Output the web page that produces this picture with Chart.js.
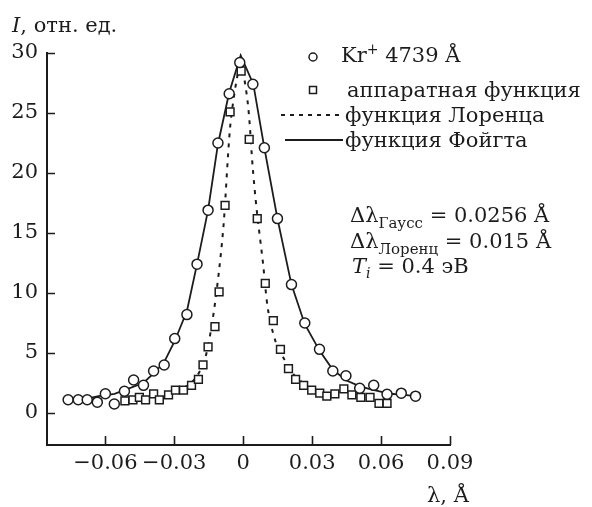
<!DOCTYPE html>
<html>
<head>
<meta charset="utf-8">
<script src="https://cdn.jsdelivr.net/npm/chart.js@4.4.1/dist/chart.umd.min.js"></script>
<style>
  body { margin: 0; background: #fff; }
  #wrap { width: 592px; height: 507px; }
</style>
</head>
<body>
<div id="wrap"><canvas id="chart" width="592" height="507"></canvas></div>
<script>
// Kr+ 4739 Å (circles)
const krLambda = [-0.0762, -0.0718, -0.0679, -0.0635, -0.0600, -0.0561, -0.0517, -0.0477, -0.0434, -0.0390, -0.0344, -0.0298, -0.0245, -0.0201, -0.0153, -0.0110, -0.0061, -0.0015, 0.0042, 0.0092, 0.0149, 0.0210, 0.0268, 0.0332, 0.0390, 0.0447, 0.0507, 0.0568, 0.0626, 0.0688, 0.0750];
const krIntensity = [1.1, 1.1, 1.1, 0.9, 1.6, 0.75, 1.8, 2.75, 2.3, 3.5, 4.0, 6.2, 8.2, 12.4, 16.9, 22.5, 26.6, 29.2, 27.4, 22.1, 16.2, 10.7, 7.5, 5.3, 3.5, 3.1, 2.05, 2.3, 1.55, 1.65, 1.4];

// аппаратная функция (squares)
const appLambda = [-0.0515, -0.0480, -0.0452, -0.0425, -0.0390, -0.0365, -0.0325, -0.0295, -0.0260, -0.0225, -0.0195, -0.0175, -0.0153, -0.0123, -0.0105, -0.0079, -0.0057, -0.0009, 0.0026, 0.0061, 0.0096, 0.0131, 0.0162, 0.0197, 0.0228, 0.0263, 0.0298, 0.0333, 0.0364, 0.0399, 0.0438, 0.0473, 0.0512, 0.0552, 0.0591, 0.0626];
const appIntensity = [1.0, 1.1, 1.3, 1.1, 1.6, 1.1, 1.5, 1.9, 1.9, 2.3, 2.8, 4.0, 5.5, 7.2, 10.1, 17.3, 25.1, 28.5, 22.8, 16.2, 10.8, 7.7, 5.3, 3.7, 2.8, 2.3, 1.9, 1.65, 1.4, 1.6, 2.0, 1.5, 1.3, 1.3, 0.8, 0.8];

// функция Лоренца (dotted)
const lorLambda = [-0.030, -0.024, -0.020, -0.0165, -0.0133, -0.0105, -0.0085, -0.0057, -0.0030, -0.0010, 0.0020, 0.0042, 0.0060, 0.0086, 0.0108, 0.0140, 0.0175, 0.0220, 0.0280];
const lorIntensity = [1.8, 2.3, 3.1, 4.6, 7.8, 11.9, 15.8, 23.8, 27.6, 29.0, 25.8, 20.3, 16.7, 12.5, 8.6, 6.0, 4.6, 3.2, 2.2];

// функция Фойгта (solid)
const voigtLambda = [-0.0762, -0.068, -0.063, -0.056, -0.0517, -0.0435, -0.039, -0.0345, -0.0298, -0.0245, -0.0201, -0.0153, -0.011, -0.0061, -0.0011, 0.0044, 0.0092, 0.0149, 0.021, 0.0268, 0.0332, 0.039, 0.045, 0.051, 0.057, 0.064, 0.070, 0.075];
const voigtIntensity = [1.1, 1.2, 1.4, 1.6, 1.9, 2.5, 3.3, 4.2, 6.0, 8.5, 12.4, 16.9, 22.4, 26.7, 29.8, 27.4, 22.1, 16.2, 10.7, 7.4, 5.2, 3.6, 2.7, 2.2, 1.9, 1.6, 1.5, 1.4];

const xTicks = [-0.06, -0.03, 0, 0.03, 0.06, 0.09];
const yTicks = [0, 5, 10, 15, 20, 25, 30];

const INK = "#1c1c1c";
const SERIF = "'DejaVu Serif', serif";

const pts = (xs, ys) => xs.map((x, i) => ({ x, y: ys[i] }));
const fmtX = (v) => (v === 0 ? "0" : (v < 0 ? "\u2212" : "") + Math.abs(v).toFixed(2));

// draw runs of text with different styles on one baseline
function rich(ctx, x, y, parts) {
	for (const p of parts) {
		ctx.font = `${p.italic ? "italic " : ""}${p.size || 21}px ${SERIF}`;
		ctx.fillText(p.t, x, y + (p.dy || 0));
		x += ctx.measureText(p.t).width;
	}
}

const decor = {
	id: "decor",
	afterDraw(chart) {
		const { ctx, chartArea: a } = chart;
		const { x, y } = chart.scales;
		ctx.save();
		ctx.strokeStyle = INK;
		ctx.lineWidth = 1.6;
		ctx.beginPath();
		for (const v of yTicks) {
			const py = Math.round(y.getPixelForValue(v)) + 0.5;
			ctx.moveTo(a.left, py);
			ctx.lineTo(a.left + 8, py);
		}
		for (const v of xTicks) {
			const px = Math.round(x.getPixelForValue(v)) + 0.5;
			ctx.moveTo(px, a.bottom);
			ctx.lineTo(px, a.bottom - 9);
		}
		ctx.stroke();

		ctx.fillStyle = INK;
		ctx.textBaseline = "alphabetic";
		ctx.textAlign = "left";
		// axis titles
		rich(ctx, 12, 32, [{ t: "I", italic: true }, { t: ", отн. ед." }]);
		rich(ctx, 427, 502, [{ t: "λ, Å" }]);

		// legend
		ctx.lineWidth = 1.5;
		ctx.beginPath();
		ctx.arc(313, 57, 4, 0, Math.PI * 2);
		ctx.stroke();
		ctx.strokeRect(309.5, 86.5, 7, 7);
		ctx.lineWidth = 2;
		ctx.setLineDash([4, 5]);
		ctx.beginPath();
		ctx.moveTo(281, 115);
		ctx.lineTo(343, 115);
		ctx.stroke();
		ctx.setLineDash([]);
		ctx.lineWidth = 1.8;
		ctx.beginPath();
		ctx.moveTo(285, 140);
		ctx.lineTo(343, 140);
		ctx.stroke();

		rich(ctx, 341, 62, [{ t: "Kr" }, { t: "+", size: 14, dy: -8 }, { t: " 4739 Å" }]);
		rich(ctx, 347, 97, [{ t: "аппаратная функция" }]);
		rich(ctx, 345, 122, [{ t: "функция Лоренца" }]);
		rich(ctx, 345, 147, [{ t: "функция Фойгта" }]);

		// fit parameters
		rich(ctx, 350, 222, [{ t: "Δλ" }, { t: "Гаусс", size: 15, dy: 6 }, { t: " = 0.0256 Å" }]);
		rich(ctx, 350, 248, [{ t: "Δλ" }, { t: "Лоренц", size: 15, dy: 6 }, { t: " = 0.015 Å" }]);
		rich(ctx, 352, 273, [{ t: "T", italic: true }, { t: "i", italic: true, size: 14, dy: 5 }, { t: " = 0.4 эВ" }]);
		ctx.restore();
	},
};

new Chart(document.getElementById("chart"), {
	type: "scatter",
	data: {
		datasets: [
			{
				label: "Kr+ 4739 Å",
				data: pts(krLambda, krIntensity),
				pointStyle: "circle",
				pointRadius: 5,
				pointBackgroundColor: "#fff",
				pointBorderColor: INK,
				pointBorderWidth: 1.5,
				order: 1,
			},
			{
				label: "аппаратная функция",
				data: pts(appLambda, appIntensity),
				pointStyle: "rect",
				pointRadius: 5.5,
				pointBackgroundColor: "#fff",
				pointBorderColor: INK,
				pointBorderWidth: 1.5,
				order: 2,
			},
			{
				label: "функция Лоренца",
				data: pts(lorLambda, lorIntensity),
				showLine: true,
				pointRadius: 0,
				borderColor: INK,
				borderWidth: 2,
				borderDash: [4, 6],
				tension: 0.3,
				order: 3,
			},
			{
				label: "функция Фойгта",
				data: pts(voigtLambda, voigtIntensity),
				showLine: true,
				pointRadius: 0,
				borderColor: INK,
				borderWidth: 1.8,
				tension: 0,
				order: 4,
			},
		],
	},
	options: {
		responsive: false,
		animation: false,
		devicePixelRatio: 1,
		layout: { padding: { top: 53, right: 142, left: 0, bottom: 0 } },
		plugins: { legend: { display: false }, tooltip: { enabled: false } },
		scales: {
			x: {
				type: "linear",
				min: -0.0854,
				max: 0.09,
				afterBuildTicks: (s) => {
					s.ticks = xTicks.map((value) => ({ value }));
				},
				afterFit: (s) => {
					s.height = 62;
				},
				ticks: {
					callback: fmtX,
					color: INK,
					font: { family: SERIF, size: 21 },
					padding: 6,
					maxRotation: 0,
					autoSkip: false,
				},
				grid: { display: false, drawTicks: false },
				border: { display: true, color: INK, width: 2 },
			},
			y: {
				min: -2.67,
				max: 30,
				afterBuildTicks: (s) => {
					s.ticks = yTicks.map((value) => ({ value }));
				},
				afterFit: (s) => {
					s.width = 47;
				},
				ticks: {
					color: INK,
					font: { family: SERIF, size: 21 },
					padding: 9,
					autoSkip: false,
				},
				grid: { display: false, drawTicks: false },
				border: { display: true, color: INK, width: 2 },
			},
		},
	},
	plugins: [decor],
});
</script>
</body>
</html>
